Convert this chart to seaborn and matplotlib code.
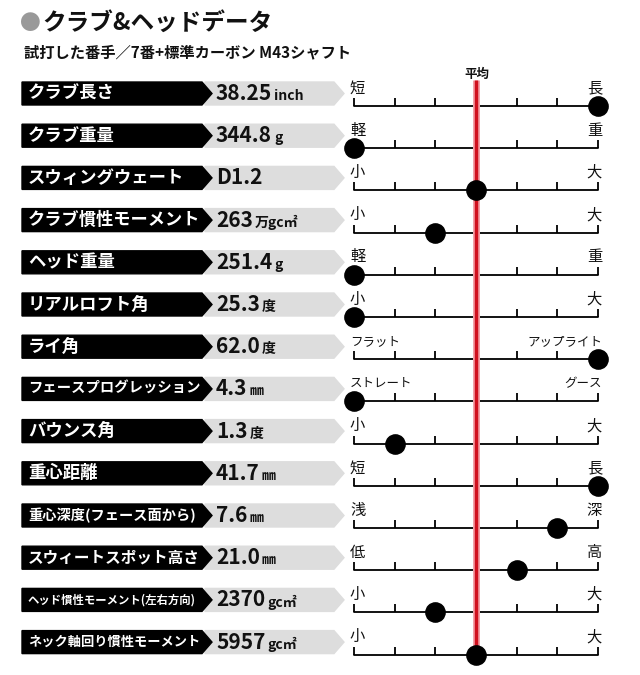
import matplotlib
matplotlib.use("Agg")
import matplotlib.pyplot as plt
from matplotlib.patches import Polygon
import seaborn as sns
import pandas as pd

labels = ["クラブ長さ", "クラブ重量", "スウィングウェート", "クラブ慣性モーメント", "ヘッド重量",
          "リアルロフト角", "ライ角", "フェースプログレッション", "バウンス角", "重心距離",
          "重心深度(フェース面から)", "スウィートスポット高さ", "ヘッド慣性モーメント(左右方向)", "ネック軸回り慣性モーメント"]
numbers = ["38.25", "344.8", "D1.2", "263", "251.4", "25.3", "62.0", "4.3", "1.3", "41.7",
           "7.6", "21.0", "2370", "5957"]
units = ["inch", "g", "", "万gc㎡", "g", "度", "度", "㎜", "度", "㎜", "㎜", "㎜", "gc㎡", "gc㎡"]
left_ends = ["短", "軽", "小", "小", "軽", "小", "フラット", "ストレート", "小", "短", "浅", "低", "小", "小"]
right_ends = ["長", "重", "大", "大", "重", "大", "アップライト", "グース", "大", "長", "深", "高", "大", "大"]
positions = [6, 0, 3, 2, 0, 0, 6, 0, 1, 6, 5, 4, 2, 3]
ticks = [0, 1, 2, 3, 4, 5, 6]
average = 3

FONT = "Noto Sans CJK JP"
sns.set_style("white")
plt.rcParams["font.family"] = FONT
plt.rcParams["text.color"] = "#111111"

S = 40.67
def px(x):
    return (x - 354) / S
RS = 42.2
def py(y):
    return (y - 106) / RS

def textwidth(s):
    return sum(0.55 if ord(c) < 128 else 1.0 for c in s)

fig = plt.figure(figsize=(6.4, 6.75), dpi=100)
ax = fig.add_axes([0, 0, 1, 1])
ax.set_xlim(px(0), px(640))
ax.set_ylim(py(675), py(0))
ax.axis("off")

ax.text(px(20), py(24), "●", fontsize=15, color="#999999", va="center", ha="left")
ax.text(px(42), py(23), "クラブ&ヘッドデータ", fontsize=17, fontweight="bold", va="center", ha="left")
ax.text(px(24), py(52), "試打した番手／7番+標準カーボン M43シャフト", fontsize=11, fontweight="bold", va="center", ha="left")
ax.text(px(477), py(74), "平均", fontsize=9, fontweight="bold", va="center", ha="center")

for i, lab in enumerate(labels):
    top = i - 24 / RS
    bot = i - 1 / RS
    mid = (top + bot) / 2
    ax.add_patch(Polygon([(px(334), top), (px(344), mid), (px(334), bot), (px(205), bot), (px(205), top)],
                         closed=True, color="#dddddd", zorder=1))
    ax.add_patch(Polygon([(px(22), top), (px(202), top), (px(212), mid), (px(202), bot), (px(22), bot)],
                         closed=True, color="black", zorder=2))
    fs = min(12.5, 172 * 0.72 / textwidth(lab))
    ax.text(px(28), mid, lab, color="white", fontsize=fs, fontweight="bold", va="center", ha="left", zorder=3)
    t = ax.text(px(216), mid, numbers[i], fontsize=15, fontweight="bold", va="center", ha="left", zorder=3)
    fig.canvas.draw()
    bb = t.get_window_extent()
    xend = ax.transData.inverted().transform((bb.x1, bb.y0))[0]
    ax.text(xend + 0.05, mid + 0.06, units[i], fontsize=10, fontweight="bold", va="center", ha="left", zorder=3)
    ax.plot([0, 6], [i, i], color="black", lw=1.3, zorder=2)
    ax.vlines(ticks, i - 8 / RS, i, color="black", lw=1.3, zorder=2)
    ax.text(-0.1, i - 18 / RS, left_ends[i], fontsize=11 if len(left_ends[i]) == 1 else 9, va="center", ha="left")
    ax.text(6.1, i - 18 / RS, right_ends[i], fontsize=11 if len(right_ends[i]) == 1 else 9, va="center", ha="right")

ax.plot([average, average], [py(80), 13.1], color="#f2a0a8", lw=5, zorder=3, solid_capstyle="butt")
ax.plot([average, average], [py(80), 13.1], color="#d0101e", lw=2.5, zorder=3, solid_capstyle="butt")

df = pd.DataFrame({"pos": positions, "row": list(range(len(positions)))})
sns.scatterplot(data=df, x="pos", y="row", s=190, color="black", edgecolor="black", zorder=5, ax=ax, legend=False)
ax.set_xlim(px(0), px(640))
ax.set_ylim(py(675), py(0))
ax.axis("off")

fig.savefig("out.png", dpi=100)
